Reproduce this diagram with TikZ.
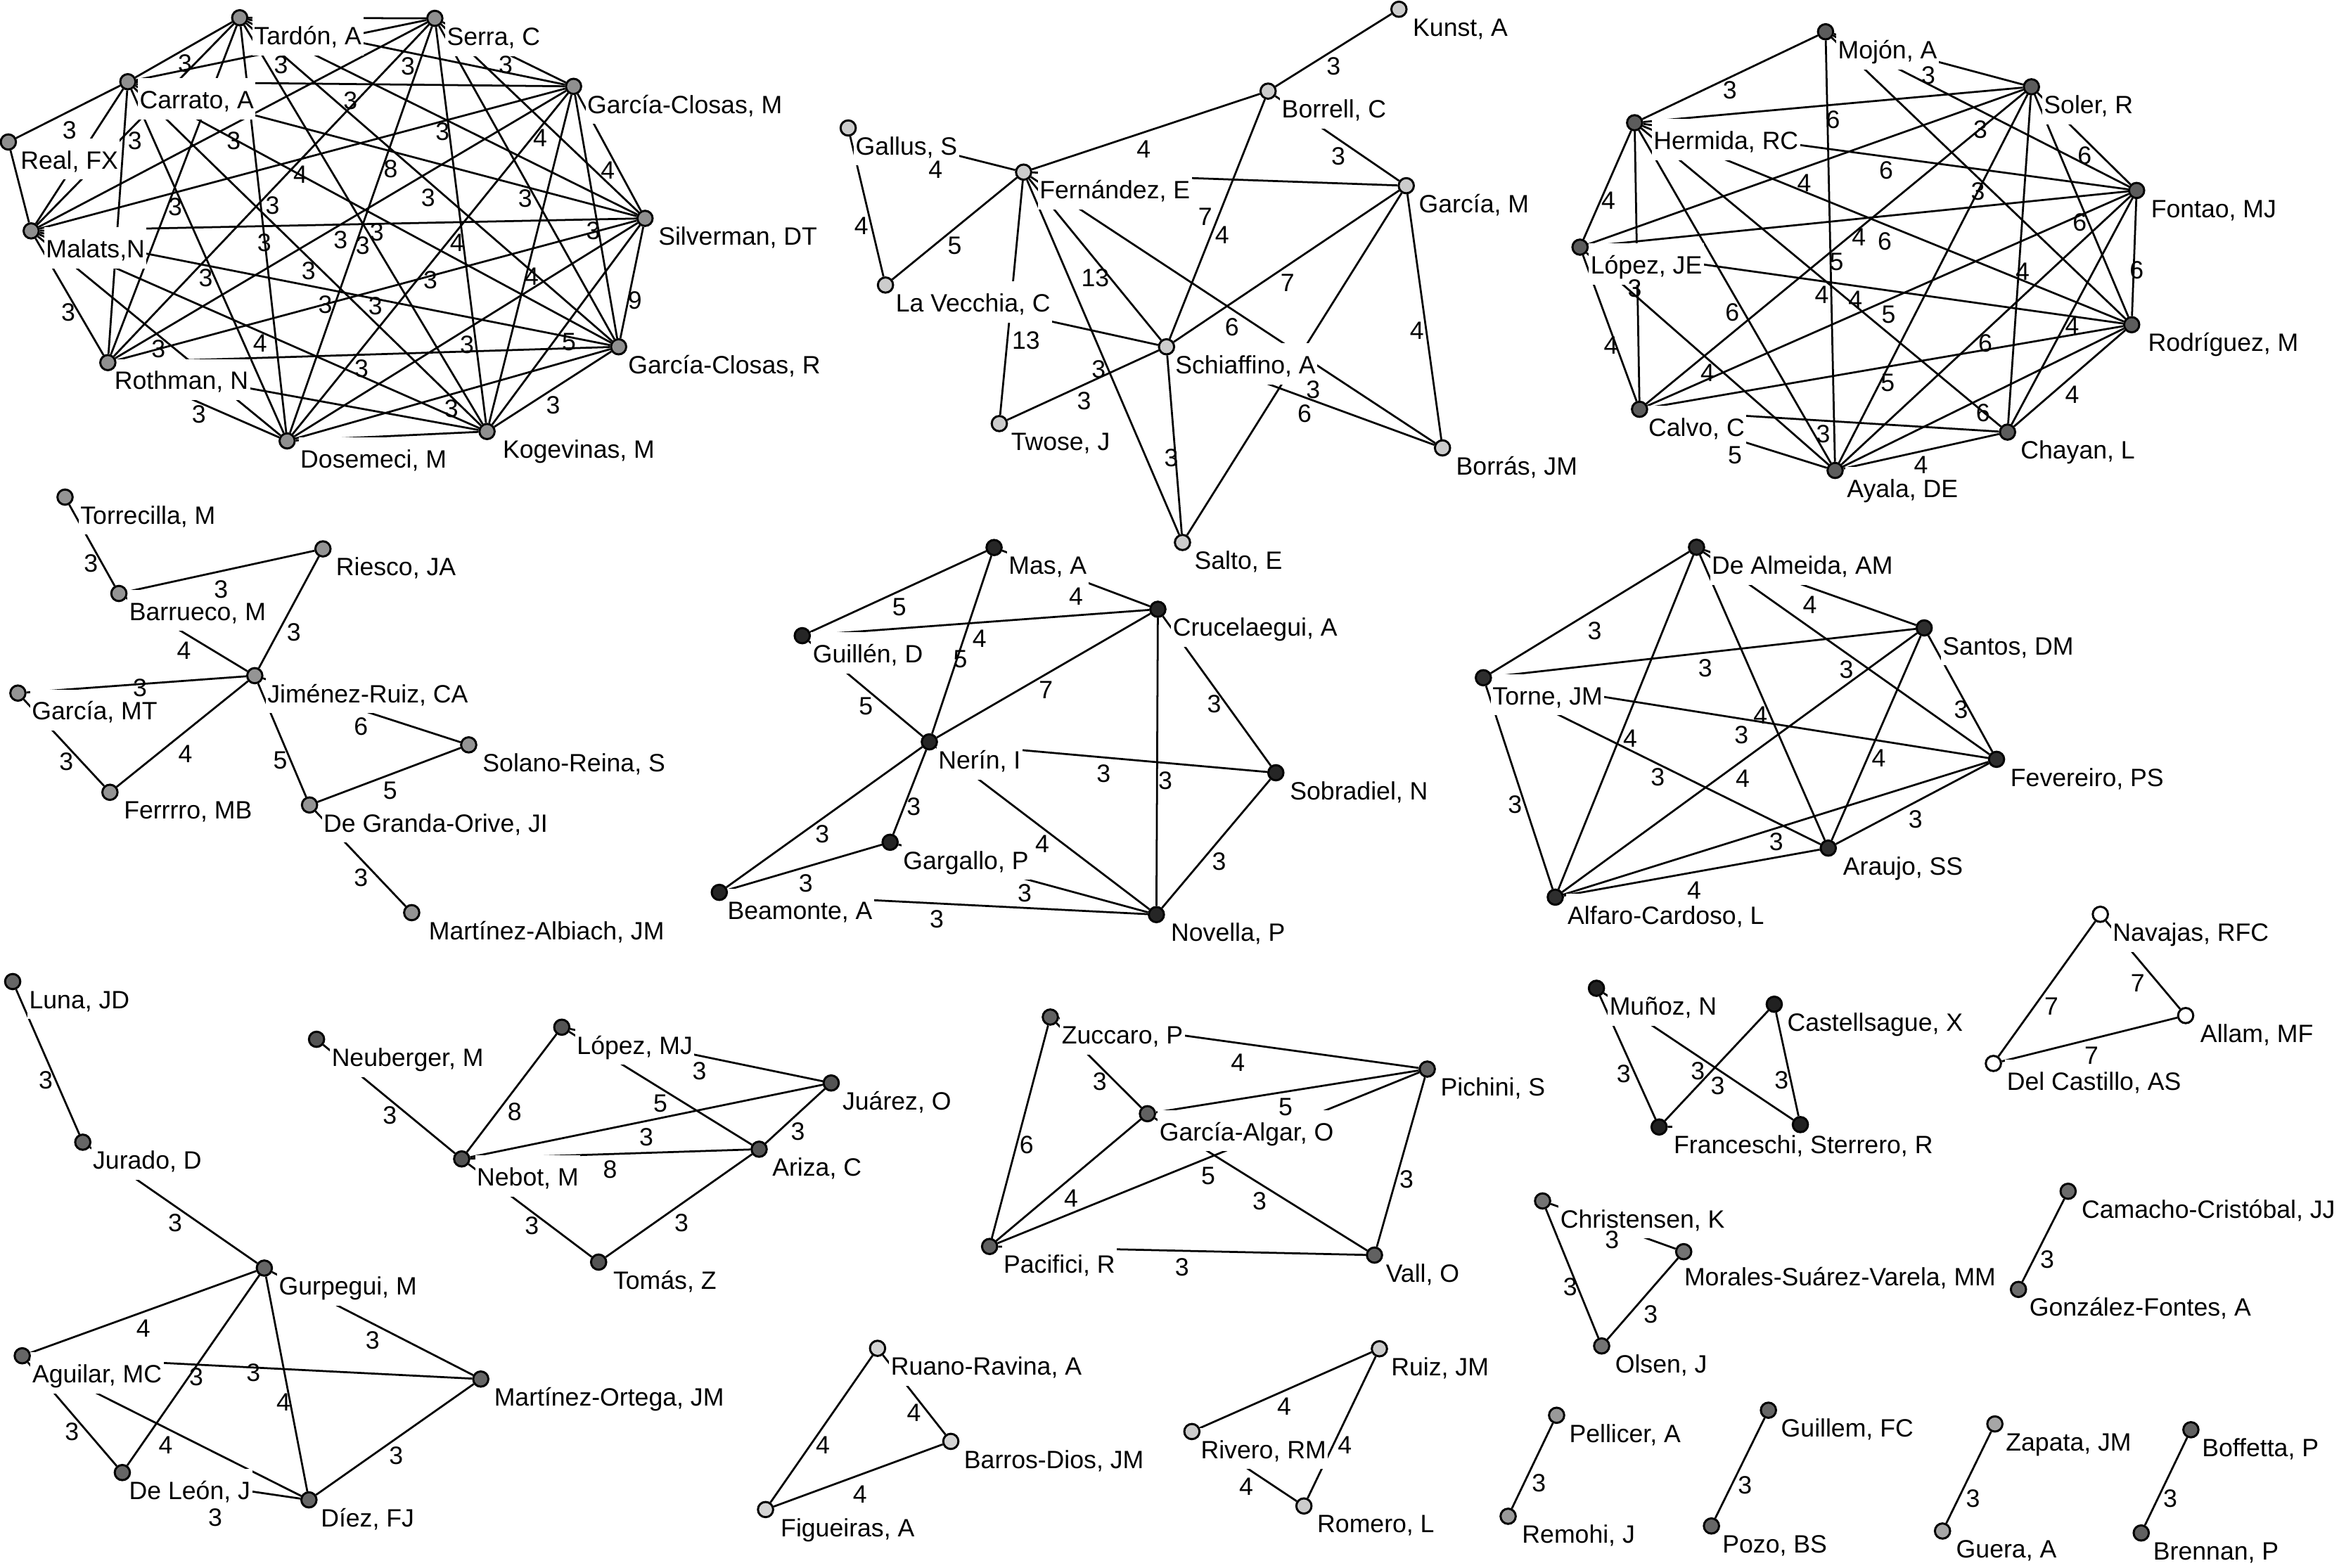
\documentclass[tikz,border=0pt]{standalone}
\usepackage{fontspec}
\setmainfont{Liberation Sans}
\usetikzlibrary{calc}
\pgfdeclarelayer{edgelayer}
\pgfdeclarelayer{labellayer}
\pgfsetlayers{edgelayer,labellayer,main}
\definecolor{c1}{gray}{0.56}
\definecolor{c2}{gray}{0.80}
\definecolor{c3}{gray}{0.36}
\definecolor{c4}{gray}{0.58}
\definecolor{c5}{gray}{0.15}
\definecolor{c6}{gray}{0.18}
\definecolor{c7}{gray}{0.40}
\definecolor{c8}{gray}{0.33}
\definecolor{c9}{gray}{0.38}
\definecolor{c10}{gray}{0.83}
\definecolor{c11}{gray}{0.80}
\definecolor{c12}{gray}{0.13}
\definecolor{c13}{gray}{1.00}
\definecolor{c14}{gray}{0.45}
\definecolor{c15}{gray}{0.42}
\definecolor{c16}{gray}{0.60}
\definecolor{c17}{gray}{0.40}
\definecolor{c18}{gray}{0.65}
\definecolor{c19}{gray}{0.38}
\tikzset{
  dot/.style={circle, draw=black, line width=0.7pt, minimum size=5.1pt, inner sep=0pt},
  lbl/.style={anchor=base west, fill=white, inner xsep=0.6pt, inner ysep=0pt,
              text height=1.02em, text depth=0.36em, font=\fontsize{8.4}{9}\selectfont},
  wtl/.style={inner sep=0pt, font=\fontsize{8.4}{9}\selectfont},
  edge/.style={line width=0.65pt, draw=black},
}
\newcommand{\nd}[4]{\node[dot, fill=#4] (#1) at (#2,#3) {};}
\newcommand{\lb}[3]{\node[lbl] (#1-t) at ($(#1)+(#2-1.2,18)$) {#3};}
\newcommand{\lbb}[4]{\node[lbl] (#1-t) at ($(#1)+(#2-1.2,#3)$) {#4};}
\newcounter{wc}
\newcommand{\wt}[3]{\stepcounter{wc}\node[wtl] (w\arabic{wc}) at (#1,#2) {#3};}
\newcommand{\ed}[2]{\draw[edge] (#1) -- (#2);}
\begin{document}
\begin{tikzpicture}[x=0.5pt,y=-0.5pt]
\useasboundingbox (0,0) rectangle (1568,1051);
\begin{pgfonlayer}{edgelayer}
\fill[white] (0,0) rectangle (1568,1051);
\end{pgfonlayer}

% ---------------- cluster 1
\nd{tardon}{160.7}{11.9}{c1}
\nd{serra}{291.5}{12.3}{c1}
\nd{carrato}{85.7}{54.8}{c1}
\nd{gcm}{384.5}{57.9}{c1}
\nd{real}{5.6}{95.2}{c1}
\nd{silverman}{432.4}{146.4}{c1}
\nd{malats}{20.9}{154.8}{c1}
\nd{gcr}{414.7}{232.5}{c1}
\nd{rothman}{72.3}{243.1}{c1}
\nd{kogevinas}{326.5}{289.3}{c1}
\nd{dosemeci}{192.5}{295.6}{c1}
% ---------------- cluster 2
\nd{kunst}{937.8}{6.2}{c2}
\nd{borrell}{850.1}{61.1}{c2}
\nd{gallus}{568.6}{85.8}{c2}
\nd{fernandez}{686.2}{115.4}{c2}
\nd{garciam}{942.7}{124.5}{c2}
\nd{lavecchia}{593.6}{191.1}{c2}
\nd{schiaffino}{782}{232.5}{c2}
\nd{twose}{669.9}{284}{c2}
\nd{borras}{967}{300.3}{c2}
\nd{salto}{792.7}{363.7}{c2}
% ---------------- cluster 3
\nd{mojon}{1223.8}{21.3}{c3}
\nd{soler}{1361.8}{58.2}{c3}
\nd{hermida}{1095.8}{82.3}{c3}
\nd{fontao}{1432.3}{127.7}{c3}
\nd{lopezje}{1059.2}{165.7}{c3}
\nd{rodriguez}{1429}{217.7}{c3}
\nd{calvo}{1099.1}{274.4}{c3}
\nd{chayan}{1345.8}{289.7}{c3}
\nd{ayala}{1230.2}{315.4}{c3}
% ---------------- cluster 4
\nd{torrecilla}{43.6}{333.3}{c4}
\nd{riesco}{216.5}{368}{c4}
\nd{barrueco}{79.7}{397.9}{c4}
\nd{jimenez}{170.8}{453}{c4}
\nd{garciamt}{12}{464.7}{c4}
\nd{solano}{314.2}{499.4}{c4}
\nd{ferrrro}{73.7}{531.2}{c4}
\nd{degranda}{207.5}{539.7}{c4}
\nd{malbiach}{276}{611.9}{c4}
% ---------------- cluster 5
\nd{mas}{666.4}{367.1}{c5}
\nd{crucelaegui}{776.2}{408.5}{c5}
\nd{guillen}{537.8}{426.2}{c5}
\nd{nerin}{623}{497.4}{c5}
\nd{sobradiel}{855.3}{518.1}{c5}
\nd{gargallo}{596.7}{564.7}{c5}
\nd{beamonte}{482.2}{598.3}{c5}
\nd{novella}{775.2}{613.2}{c5}
% ---------------- cluster 6
\nd{dealmeida}{1137.3}{366.9}{c6}
\nd{santos}{1289.9}{421}{c6}
\nd{torne}{994.4}{454.4}{c6}
\nd{fevereiro}{1338.4}{509.1}{c6}
\nd{araujo}{1225.6}{568.6}{c6}
\nd{alfaro}{1042.6}{601.5}{c6}
% ---------------- cluster 7
\nd{luna}{8.5}{658.1}{c7}
\nd{jurado}{55.5}{765.8}{c7}
\nd{gurpegui}{177.2}{850.2}{c7}
\nd{aguilar}{14.9}{909}{c7}
\nd{mortega}{322.3}{924.6}{c7}
\nd{deleon}{82}{987.3}{c7}
\nd{diez}{207.1}{1005.6}{c7}
% ---------------- cluster 8
\nd{neuberger}{212.2}{696.8}{c8}
\nd{lopezmj}{376.6}{688.7}{c8}
\nd{juarez}{557.2}{726.1}{c8}
\nd{nebot}{309.5}{777}{c8}
\nd{ariza}{508.9}{770.5}{c8}
\nd{tomas}{401.3}{846.2}{c8}
% ---------------- cluster 9
\nd{zuccaro}{704.1}{681.9}{c9}
\nd{pichini}{956.8}{716.8}{c9}
\nd{galgar}{769.2}{746.7}{c9}
\nd{pacifici}{663.4}{835.7}{c9}
\nd{vall}{921.4}{841.5}{c9}
% ---------------- small clusters
\nd{ruano}{588.3}{904}{c10}
\nd{barros}{637.4}{966.4}{c10}
\nd{figueiras}{513.2}{1012.1}{c10}
\nd{ruiz}{924.7}{904.3}{c11}
\nd{rivero}{799}{959.8}{c11}
\nd{romero}{874.1}{1009.7}{c11}
\nd{munoz}{1070.2}{662.6}{c12}
\nd{castell}{1189.4}{673.3}{c12}
\nd{francesch}{1112.2}{755.6}{c12}
\nd{sterrero}{1206.9}{754}{c12}
\nd{navajas}{1408}{613}{c13}
\nd{allam}{1465.2}{680.9}{c13}
\nd{delcastillo}{1336.3}{713}{c13}
\nd{christensen}{1034.1}{805.2}{c14}
\nd{morales}{1128.7}{839.2}{c14}
\nd{olsen}{1073.7}{902.4}{c14}
\nd{camacho}{1386.4}{798.7}{c15}
\nd{gonzalez}{1353.1}{864.5}{c15}
\nd{pellicer}{1043.5}{948.9}{c16}
\nd{remohi}{1011}{1016.6}{c16}
\nd{guillem}{1185.5}{945.5}{c17}
\nd{pozo}{1147.3}{1023.1}{c17}
\nd{zapata}{1337.3}{954.7}{c18}
\nd{guera}{1302.2}{1026.5}{c18}
\nd{boffetta}{1468.7}{958.6}{c19}
\nd{brennan}{1435.4}{1027.8}{c19}

% ================= edges
\begin{pgfonlayer}{edgelayer}
\foreach \a [count=\i] in {tardon,serra,carrato,gcm,silverman,malats,gcr,rothman,kogevinas,dosemeci}{
  \foreach \b [count=\j] in {tardon,serra,carrato,gcm,silverman,malats,gcr,rothman,kogevinas,dosemeci}{
    \ifnum\i<\j \draw[edge] (\a) -- (\b); \fi }}
\ed{real}{carrato}\ed{real}{malats}
% cluster 2
\foreach \a/\b in {kunst/borrell,borrell/fernandez,borrell/garciam,borrell/schiaffino,
  gallus/fernandez,gallus/lavecchia,fernandez/lavecchia,fernandez/garciam,fernandez/twose,
  fernandez/salto,fernandez/schiaffino,fernandez/borras,garciam/schiaffino,garciam/salto,
  garciam/borras,lavecchia/schiaffino,twose/schiaffino,schiaffino/salto,schiaffino/borras}
  {\draw[edge] (\a) -- (\b);}
% cluster 3
\foreach \a/\b in {mojon/hermida,mojon/ayala,mojon/soler,mojon/fontao,mojon/rodriguez,
  soler/hermida,soler/lopezje,soler/calvo,soler/ayala,soler/chayan,soler/rodriguez,soler/fontao,
  hermida/lopezje,hermida/calvo,hermida/ayala,hermida/chayan,hermida/rodriguez,hermida/fontao,
  lopezje/fontao,lopezje/rodriguez,lopezje/calvo,lopezje/ayala,
  calvo/fontao,calvo/rodriguez,calvo/chayan,calvo/ayala,
  ayala/chayan,ayala/rodriguez,ayala/fontao,chayan/rodriguez,chayan/fontao,fontao/rodriguez}
  {\draw[edge] (\a) -- (\b);}
% cluster 4
\foreach \a/\b in {torrecilla/barrueco,barrueco/riesco,barrueco/jimenez,riesco/jimenez,
  garciamt/jimenez,garciamt/ferrrro,ferrrro/jimenez,jimenez/degranda,jimenez/solano,
  degranda/solano,degranda/malbiach}
  {\draw[edge] (\a) -- (\b);}
% cluster 5
\foreach \a/\b in {mas/guillen,mas/nerin,mas/crucelaegui,guillen/crucelaegui,guillen/nerin,
  nerin/crucelaegui,crucelaegui/novella,crucelaegui/sobradiel,nerin/sobradiel,nerin/novella,
  nerin/gargallo,nerin/beamonte,gargallo/beamonte,gargallo/novella,beamonte/novella,sobradiel/novella}
  {\draw[edge] (\a) -- (\b);}
% cluster 6
\foreach \a [count=\i] in {dealmeida,santos,torne,fevereiro,araujo,alfaro}{
  \foreach \b [count=\j] in {dealmeida,santos,torne,fevereiro,araujo,alfaro}{
    \ifnum\i<\j \draw[edge] (\a) -- (\b); \fi }}
% cluster 7
\foreach \a/\b in {luna/jurado,jurado/gurpegui,gurpegui/aguilar,gurpegui/mortega,gurpegui/deleon,
  gurpegui/diez,aguilar/mortega,aguilar/deleon,aguilar/diez,deleon/diez,mortega/diez}
  {\draw[edge] (\a) -- (\b);}
% cluster 8
\foreach \a/\b in {neuberger/nebot,nebot/lopezmj,lopezmj/juarez,lopezmj/ariza,nebot/juarez,
  nebot/ariza,juarez/ariza,nebot/tomas,tomas/ariza}
  {\draw[edge] (\a) -- (\b);}
% cluster 9
\foreach \a/\b in {zuccaro/pichini,zuccaro/galgar,zuccaro/pacifici,galgar/pichini,pichini/pacifici,
  galgar/pacifici,galgar/vall,pichini/vall,pacifici/vall}
  {\draw[edge] (\a) -- (\b);}
% small
\foreach \a/\b in {ruano/barros,ruano/figueiras,barros/figueiras,ruiz/rivero,ruiz/romero,rivero/romero,
  munoz/francesch,munoz/sterrero,castell/francesch,castell/sterrero,francesch/sterrero,
  navajas/allam,navajas/delcastillo,delcastillo/allam,christensen/olsen,christensen/morales,
  morales/olsen,camacho/gonzalez,pellicer/remohi,guillem/pozo,zapata/guera,boffetta/brennan}
  {\draw[edge] (\a) -- (\b);}
\end{pgfonlayer}

% ================= labels
\begin{pgfonlayer}{labellayer}
\lb{tardon}{9.3}{Tardón, A}
\lb{serra}{7.7}{Serra, C}
\lb{carrato}{7.5}{Carrato, A}
\lb{gcm}{8.8}{García-Closas, M}
\lb{real}{7.8}{Real, FX}
\lb{silverman}{8.6}{Silverman, DT}
\lb{malats}{9.5}{Malats,N}
\lb{gcr}{6.1}{García-Closas, R}
\lb{rothman}{4.1}{Rothman, N}
\lb{kogevinas}{10.2}{Kogevinas, M}
\lb{dosemeci}{8.5}{Dosemeci, M}
\lb{kunst}{9}{Kunst, A}
\lb{borrell}{8.8}{Borrell, C}
\lb{gallus}{4.6}{Gallus, S}
\lb{fernandez}{10.3}{Fernández, E}
\lb{garciam}{8.1}{García, M}
\lb{lavecchia}{6.5}{La Vecchia, C}
\lb{schiaffino}{5.5}{Schiaffino, A}
\lb{twose}{7.5}{Twose, J}
\lb{borras}{8.8}{Borrás, JM}
\lb{salto}{7.7}{Salto, E}
\lb{mojon}{8}{Mojón, A}
\lb{soler}{8}{Soler, R}
\lb{hermida}{12.3}{Hermida, RC}
\lb{fontao}{9.3}{Fontao, MJ}
\lb{lopezje}{6.7}{López, JE}
\lb{rodriguez}{10.6}{Rodríguez, M}
\lb{calvo}{5.6}{Calvo, C}
\lb{chayan}{8.4}{Chayan, L}
\lb{ayala}{7.6}{Ayala, DE}
\lb{torrecilla}{9.9}{Torrecilla, M}
\lb{riesco}{8.4}{Riesco, JA}
\lb{barrueco}{6.6}{Barrueco, M}
\lb{jimenez}{8.1}{Jiménez-Ruiz, CA}
\lb{garciamt}{9}{García, MT}
\lb{solano}{9}{Solano-Reina, S}
\lb{ferrrro}{9}{Ferrrro, MB}
\lb{degranda}{9}{De Granda-Orive, JI}
\lb{malbiach}{11.1}{Martínez-Albiach, JM}
\lb{mas}{9.4}{Mas, A}
\lb{crucelaegui}{9.7}{Crucelaegui, A}
\lb{guillen}{6.7}{Guillén, D}
\lb{nerin}{5.7}{Nerín, I}
\lb{sobradiel}{9.1}{Sobradiel, N}
\lb{gargallo}{8.4}{Gargallo, P}
\lb{beamonte}{5.1}{Beamonte, A}
\lb{novella}{9.4}{Novella, P}
\lb{dealmeida}{9.8}{De Almeida, AM}
\lb{santos}{12}{Santos, DM}
\lb{torne}{5.8}{Torne, JM}
\lb{fevereiro}{9}{Fevereiro, PS}
\lb{araujo}{9.6}{Araujo, SS}
\lb{alfaro}{7.9}{Alfaro-Cardoso, L}
\lb{luna}{10.7}{Luna, JD}
\lb{jurado}{6.4}{Jurado, D}
\lb{gurpegui}{9.4}{Gurpegui, M}
\lb{aguilar}{6.4}{Aguilar, MC}
\lb{mortega}{8.6}{Martínez-Ortega, JM}
\lb{deleon}{4.2}{De León, J}
\lb{diez}{7.6}{Díez, FJ}
\lb{neuberger}{9.8}{Neuberger, M}
\lb{lopezmj}{9.8}{López, MJ}
\lb{juarez}{7.2}{Juárez, O}
\lb{nebot}{9.8}{Nebot, M}
\lb{ariza}{8.5}{Ariza, C}
\lb{tomas}{9.4}{Tomás, Z}
\lb{zuccaro}{7.3}{Zuccaro, P}
\lb{pichini}{8.6}{Pichini, S}
\lb{galgar}{7.7}{García-Algar, O}
\lb{pacifici}{9}{Pacifici, R}
\lb{vall}{7.3}{Vall, O}
\lb{ruano}{8.5}{Ruano-Ravina, A}
\lb{barros}{8.5}{Barros-Dios, JM}
\lb{figueiras}{9.8}{Figueiras, A}
\lb{ruiz}{7.6}{Ruiz, JM}
\lb{rivero}{5.6}{Rivero, RM}
\lb{romero}{8.6}{Romero, L}
\lb{munoz}{8.4}{Muñoz, N}
\lb{castell}{8.4}{Castellsague, X}
\lb{francesch}{9.5}{Franceschi, Sterrero, R}
\lb{navajas}{8}{Navajas, RFC}
\lb{allam}{9.5}{Allam, MF}
\lb{delcastillo}{8.7}{Del Castillo, AS}
\lb{christensen}{11.5}{Christensen, K}
\lbb{morales}{0}{22.7}{Morales-Suárez-Varela, MM}
\lb{olsen}{8.7}{Olsen, J}
\lb{camacho}{8.7}{Camacho-Cristóbal, JJ}
\lb{gonzalez}{7}{González-Fontes, A}
\lb{pellicer}{8.1}{Pellicer, A}
\lb{remohi}{9}{Remohi, J}
\lb{guillem}{8.1}{Guillem, FC}
\lb{pozo}{7}{Pozo, BS}
\lb{zapata}{7}{Zapata, JM}
\lb{guera}{8.8}{Guera, A}
\lb{boffetta}{7.1}{Boffetta, P}
\lb{brennan}{7.7}{Brennan, P}
\end{pgfonlayer}

% ================= weights
\foreach \x/\y/\t in {
 124/42.7/3, 188.3/43.7/3, 273.4/44.6/3, 339/43.7/3, 46.6/87.3/3, 90.4/94.2/3,
 234.9/67.5/3, 156.6/94.2/3, 201.3/117/4, 261.9/113.1/8, 287/132.5/3, 117.4/138.9/3,
 182.7/137.9/3, 177.1/162.7/3, 228.3/160.7/3, 243.2/164.7/3, 252.6/155.8/3, 137.9/186.5/3,
 206.9/181.5/3, 288.5/187.5/3, 45.7/209.3/3, 218.1/204.4/3, 251.6/205.4/3, 106.2/234.1/3,
 174.3/230.2/4, 242.3/247/3, 133.3/277.8/3, 296.7/88.3/3, 362.1/92.3/4, 407.4/114.1/4,
 352.1/132.9/3, 397.7/154.8/3, 306.3/162.7/4, 356.4/185.5/4, 425.6/201.4/9, 313.1/231.2/3,
 381.4/229.2/5, 302.5/273.8/3, 370.8/271.8/3,
 894/44.4/3, 766.7/99.9/4, 897.2/104.8/3, 627.1/113.9/4, 577.4/151.6/4, 640/164.7/5,
 807.9/145.5/7, 819.3/157.8/4, 734.2/186.1/13, 863.1/189.8/7, 825.8/219.4/6, 949.8/221.9/4,
 687.8/228.1/13, 736.5/247.8/3, 726.7/268.7/3, 880.3/261.3/3, 874.5/277.4/6, 785.2/307/3,
 1159.6/60.4/3, 1292.7/50.5/3, 1228.8/80.1/6, 1327.6/86.7/3, 1397.4/104.3/6, 1264.4/114.1/6,
 1209.5/122.9/4, 1078.2/134.3/4, 1325.9/128.4/3, 1394.1/149.3/6, 1246.1/159.1/4, 1263.4/162/6,
 1231.1/175.6/5, 1432.3/181.1/6, 1355.8/182.2/4, 1095.8/193.5/3, 1221.2/197.5/4, 1243.8/200.8/4,
 1161.3/209.6/6, 1266/210.7/5, 1389.1/218.4/4, 1330.9/230/6, 1079.8/231.6/4, 1144.7/250.2/4,
 1265.4/256.8/5, 1389.1/264.5/4, 1329.3/277/6, 1222.2/290.8/3, 1163/305.1/5, 1287.7/311.7/4,
 61/377.8/3, 148.2/395.2/3, 123.3/436.1/4, 196.9/423.8/3, 93.8/461.2/3, 44.5/510.7/3,
 124.2/505.6/4, 187.9/509.7/5, 242/487.2/6, 261.6/530.1/5, 242/588.4/3,
 602.8/407/5, 721.3/400.1/4, 656.6/428.1/4, 643.8/442.1/5, 580.5/473.4/5, 701.1/462.6/7,
 813.9/471.9/3, 739.8/518.5/3, 781.2/523.2/3, 698.7/566/4, 612.5/540.9/3, 551.2/559.1/3,
 540.1/592.1/3, 686.9/598.7/3, 628/616.3/3, 817.3/577.8/3,
 1069/422.8/3, 1213.2/405.7/4, 1143.1/448.1/3, 1237.8/449/3, 1314.6/476/3, 1180.1/479.7/4,
 1167.4/492.6/3, 1092.8/495/4, 1259.5/508.5/4, 1111.3/521.2/3, 1168.2/522/4, 1015.6/539.2/3,
 1284.1/549.1/3, 1190.7/564.4/3, 1135.7/596.9/4,
 30.7/724.2/3, 117.4/820.1/3, 261.3/747.7/3, 345/745.2/8, 468.8/718.2/3, 442.7/739.9/5,
 433.3/762.6/3, 409/784.3/8, 534.9/758.7/3, 356.5/822/3, 456.8/820.1/3, 96.1/890.7/4,
 249.8/898.5/3, 131.5/923.3/3, 190/940.3/4, 169.9/920.2/3, 48.2/959.9/3, 111/969/4,
 144.3/1017.4/3, 265.6/976.1/3, 612.6/947.4/4, 551.6/969/4, 576.4/1001.7/4,
 829.8/712.3/4, 737.2/725.3/3, 688.2/767.7/6, 861.8/742.3/5, 809.9/788.4/5, 718/803.3/4,
 844.3/805.1/3, 942.9/790.9/3, 792.4/849.4/3, 860.9/942.9/4, 901.5/969.1/4, 835.4/996.5/4,
 1088.4/720/3, 1151.5/728.1/3, 1138.2/718.2/3, 1194.3/724.2/3, 1433/659.4/7, 1375.2/674.6/7,
 1402.1/707.8/7, 1052.6/862.7/3, 1080.7/831.4/3, 1106.6/881/3, 1372.3/844.4/3, 1031.6/994.4/3,
 1169.7/995.9/3, 1322.6/1004.8/3, 1454.8/1004.8/3}
 {\wt{\x}{\y}{\t}}
\end{tikzpicture}
\end{document}
